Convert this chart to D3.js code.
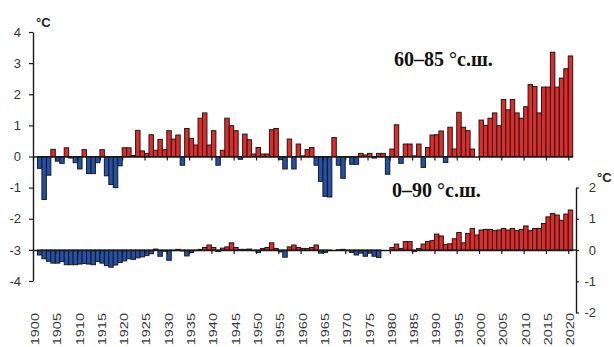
<!DOCTYPE html>
<html>
<head>
<meta charset="utf-8">
<script src="https://cdn.jsdelivr.net/npm/d3@7"></script>
<style>
  body { margin: 0; background: #fff; }
  svg text { font-family: "Liberation Sans", Arial, sans-serif; }
  svg text.caption { font-family: "Liberation Serif", "Times New Roman", serif; }
</style>
</head>
<body>
<div class="tempChart"></div>
<script>
// categories and tick labels
const firstYear = 1901
const tickYears = [1900, 1905, 1910, 1915, 1920, 1925, 1930, 1935, 1940, 1945, 1950, 1955, 1960,
  1965, 1970, 1975, 1980, 1985, 1990, 1995, 2000, 2005, 2010, 2015, 2020]
const leftTicks = [-4, -3, -2, -1, 0, 1, 2, 3, 4]
const rightTicks = [-2, -1, 0, 1, 2]

// anomalies 60-85 N, 1901..2020 (left axis)
const arctic = [
  -0.38, -1.38, -0.6, 0.23, -0.15, -0.22, 0.28, -0.05, -0.2, -0.4,
  0.22, -0.55, -0.55, -0.2, 0.22, -0.62, -0.9, -1.0, -0.3, 0.28,
  0.28, 0.03, 0.84, 0.18, 0.1, 0.7, 0.2, 0.55, 0.22, 0.83,
  0.56, 0.69, -0.28, 0.9, 0.58, 0.37, 1.23, 1.4, 0.37, 0.83,
  -0.28, 0.2, 1.23, 0.99, 0.83, -0.09, 0.72, 0.54, 0.08, 0.29,
  0.08, 0.08, 0.86, 0.9, -0.1, -0.4, 0.56, -0.4, 0.4, 0.02,
  0.22, 0.29, -0.28, -0.8, -1.28, -1.3, 0.61, -0.28, -0.7, -0.02,
  -0.25, -0.25, 0.1, 0.05, 0.1, -0.05, 0.1, 0.1, -0.57, 0.24,
  1.02, -0.22, 0.4, 0.4, 0.02, 0.4, -0.35, 0.29, 0.69, 0.7,
  0.82, -0.19, 0.94, 0.24, 1.42, 0.94, 0.83, 0.24, 0.0, 1.17,
  1.0, 1.23, 1.4, 0.99, 1.83, 1.5, 1.83, 1.4, 1.23, 1.6,
  2.31, 2.25, 1.4, 2.23, 2.23, 3.35, 2.23, 2.52, 2.82, 3.23
]

// anomalies 0-90 N, 1901..2020 (right axis)
const globe = [
  -0.16, -0.28, -0.36, -0.42, -0.42, -0.37, -0.47, -0.47, -0.47, -0.45,
  -0.43, -0.45, -0.47, -0.37, -0.42, -0.5, -0.55, -0.48, -0.4, -0.35,
  -0.28, -0.3, -0.25, -0.22, -0.18, -0.12, 0.03, -0.2, -0.04, -0.33,
  -0.02, 0.02, -0.03, -0.19, -0.08, -0.02, 0.02, 0.08, 0.16, 0.08,
  -0.05, 0.06, 0.1, 0.23, 0.08, 0.02, 0.02, 0.03, -0.02, -0.08,
  0.05, 0.08, 0.23, 0.05, -0.06, -0.23, 0.1, 0.16, 0.08, 0.05,
  0.05, 0.08, 0.16, -0.1, -0.08, -0.02, 0.0, 0.01, 0.02, -0.02,
  -0.08, -0.16, -0.1, -0.2, -0.1, -0.2, -0.24, 0.0, 0.0, 0.08,
  0.19, 0.05, 0.27, 0.27, -0.05, 0.05, 0.19, 0.27, 0.3, 0.51,
  0.45, 0.18, 0.2, 0.36, 0.56, 0.23, 0.53, 0.69, 0.48, 0.64,
  0.66, 0.66, 0.62, 0.64, 0.69, 0.64, 0.69, 0.62, 0.66, 0.77,
  0.62, 0.69, 0.69, 0.85, 1.06, 1.17, 1.12, 0.95, 1.15, 1.28
]

const width = 614
const height = 347
const red = '#e12a2a'
const blue = '#2350a8'
const ink = '#1a1a1a'

const svg = d3.select('.tempChart').append('svg')
  .attr('width', width)
  .attr('height', height)
  .attr('viewBox', [0, 0, width, height])

const allYears = d3.range(tickYears[0], tickYears[tickYears.length - 1] + 1)
const x = d3.scaleBand().domain(allYears).range([33, 572.7]).padding(0)
const xEdge = d3.scaleLinear().domain([1900, 2021]).range([33, 572.7])
const yL = d3.scaleLinear().domain([-4, 4]).range([281, 32])
const yR = d3.scaleLinear().domain([-2, 2]).range([312.5, 187.5])

const drawBars = (values, y, cls) => {
  svg.append('g').attr('class', cls)
    .selectAll('rect')
    .data(values.map((v, i) => ({ year: firstYear + i, value: v })))
    .join('rect')
    .attr('x', d => x(d.year))
    .attr('width', x.bandwidth())
    .attr('y', d => y(Math.max(0, d.value)))
    .attr('height', d => Math.abs(y(d.value) - y(0)))
    .attr('fill', d => d.value >= 0 ? red : blue)
    .attr('stroke', ink)
    .attr('stroke-width', 1)
}

drawBars(arctic, yL, 'arctic')
drawBars(globe, yR, 'globe')

// zero lines with ticks every 5 years
const zeroAxis = d3.axisBottom(xEdge).tickValues(tickYears).tickSize(4).tickSizeOuter(0).tickFormat('')
const styleAxis = g => {
  g.select('.domain').attr('stroke', ink).attr('stroke-width', 1.4)
  g.selectAll('.tick line').attr('stroke', ink).attr('stroke-width', 1.2)
  g.selectAll('.tick text').attr('fill', '#333').attr('font-size', 13)
}
svg.append('g').attr('transform', `translate(0,${yL(0)})`).call(zeroAxis).call(styleAxis)
svg.append('g').attr('transform', `translate(0,${yR(0)})`).call(zeroAxis).call(styleAxis)
svg.append('line')
  .attr('x1', xEdge(2021)).attr('x2', 576)
  .attr('y1', yR(0)).attr('y2', yR(0))
  .attr('stroke', ink).attr('stroke-width', 1.4)

// left axis
svg.append('g').attr('transform', 'translate(33,0)')
  .call(d3.axisLeft(yL).tickValues(leftTicks).tickSize(4).tickSizeOuter(0).tickPadding(8).tickFormat(d => String(d)))
  .call(styleAxis)

// right axis
svg.append('g').attr('transform', 'translate(576,0)')
  .call(d3.axisRight(yR).tickValues(rightTicks).tickSize(3).tickSizeOuter(0).tickFormat(d => String(d)))
  .call(styleAxis)
  .call(g => g.selectAll('.tick text').attr('x', 20).attr('text-anchor', 'end'))

// year labels
svg.append('g').selectAll('text')
  .data(tickYears)
  .join('text')
  .attr('transform', d => `translate(${x(d) + x.bandwidth() / 2},313) rotate(-90) scale(1,0.74)`)
  .attr('text-anchor', 'end')
  .attr('dy', '0.35em')
  .attr('font-size', 14.5)
  .attr('fill', '#333')
  .text(d => d)

// units
svg.append('text').attr('x', 36).attr('y', 27).attr('font-size', 13).attr('font-weight', 'bold')
  .attr('fill', '#222').text('°C')
svg.append('text').attr('x', 597).attr('y', 182).attr('font-size', 13).attr('font-weight', 'bold')
  .attr('fill', '#222').text('°C')

// series captions
svg.append('text').attr('class', 'caption').attr('x', 394).attr('y', 66)
  .attr('font-size', 20).attr('font-weight', 'bold').attr('fill', '#111')
  .text('60–85 °с.ш.')
svg.append('text').attr('class', 'caption').attr('x', 392).attr('y', 197)
  .attr('font-size', 20).attr('font-weight', 'bold').attr('fill', '#111')
  .text('0–90 °с.ш.')
</script>
</body>
</html>
